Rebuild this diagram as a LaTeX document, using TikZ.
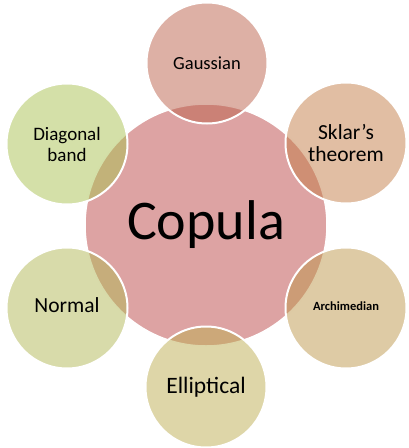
\documentclass[tikz,border=0pt]{standalone}
\usepackage{fontspec}
\setmainfont{Carlito}
\definecolor{ccore}{RGB}{221,163,163}
\definecolor{cgau}{RGB}{187,97,75}
\definecolor{cskl}{RGB}{195,125,71}
\definecolor{carc}{RGB}{189,151,75}
\definecolor{cell}{RGB}{189,173,81}
\definecolor{cnor}{RGB}{177,183,85}
\definecolor{cdia}{RGB}{169,193,81}
\begin{document}
\begin{tikzpicture}[x=1pt,y=-1pt,
  core/.style={circle,fill=ccore,draw=white,line width=1.5pt,minimum size=242pt,inner sep=0pt},
  sat/.style={circle,fill opacity=0.5,text opacity=1,draw=white,draw opacity=1,line width=2pt,minimum size=121pt,inner sep=0pt,align=center}]
\useasboundingbox (0,0) rectangle (409,448);
\node[core] (cop) at (206,225) {};
\node[sat,fill=cgau] (gau) at (207,63) {};
\node[sat,fill=cskl] (skl) at (346,143) {};
\node[sat,fill=carc] (arc) at (346,308) {};
\node[sat,fill=cell] (ell) at (206,387) {};
\node[sat,fill=cnor] (nor) at (67,308) {};
\node[sat,fill=cdia] (dia) at (67,144) {};
\node[font=\fontsize{56}{60}\selectfont] (tcop) at (cop.center) {Copula};
\node[font=\fontsize{18.5}{20}\selectfont] (tgau) at (gau.center) {Gaussian};
\node[align=center,font=\fontsize{21.5}{22}\selectfont] (tskl) at (skl.center) {Sklar’s\\theorem};
\node[font=\fontsize{12.5}{14}\selectfont\bfseries] (tarc) at ([yshift=2pt]arc.center) {Archimedian};
\node[font=\fontsize{23.5}{25}\selectfont] (tell) at (ell.center) {Elliptical};
\node[font=\fontsize{21.5}{23}\selectfont] (tnor) at ([yshift=3pt]nor.center) {Normal};
\node[align=center,font=\fontsize{19}{21}\selectfont] (tdia) at (dia.center) {Diagonal\\band};
\end{tikzpicture}
\end{document}
